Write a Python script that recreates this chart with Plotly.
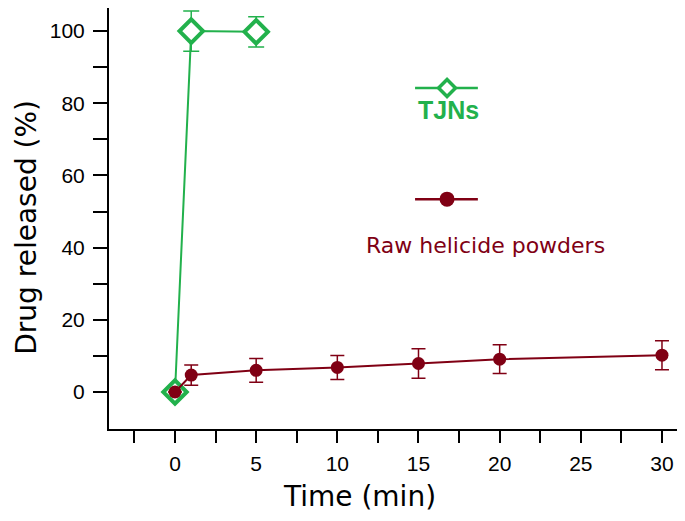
import plotly.graph_objects as go

# data
time_tjn = [0, 1, 5]
release_tjn = [0, 100, 99.8]
err_tjn = [0, 5.6, 4.2]

time_raw = [0, 1, 5, 10, 15, 20, 30]
release_raw = [0, 4.7, 6.0, 6.8, 7.9, 9.1, 10.2]
err_raw = [0, 2.8, 3.3, 3.3, 4.1, 4.0, 4.0]

green = "rgb(34,177,76)"
dark_red = "rgb(128,0,20)"
arial = "Liberation Sans, Arial, sans-serif"
wide = "DejaVu Sans, Liberation Sans, sans-serif"

fig = go.Figure()

# white filled diamonds so the error bar stems / line don't show inside
fig.add_trace(go.Scatter(
    x=time_tjn, y=release_tjn, name="TJNs", mode="lines+markers",
    line=dict(color=green, width=2),
    marker=dict(symbol="diamond", size=18, color="white", line=dict(width=4, color=green)),
    error_y=dict(type="data", array=err_tjn, color=green, thickness=1.5, width=8),
))

fig.add_trace(go.Scatter(
    x=time_raw, y=release_raw, name="Raw helicide powders", mode="lines+markers",
    line=dict(color=dark_red, width=2),
    marker=dict(symbol="circle", size=13, color=dark_red),
    error_y=dict(type="data", array=err_raw, color=dark_red, thickness=1.5, width=7),
))

# hand-made legend on an overlay axis (0..1 box over the plot area)
key_x = [0.536, 0.646]
fig.add_trace(go.Scatter(x=key_x, y=[0.81, 0.81], mode="lines",
                         line=dict(color=green, width=2.5),
                         xaxis="x2", yaxis="y2", showlegend=False, hoverinfo="skip"))
fig.add_trace(go.Scatter(x=[0.592], y=[0.81], mode="markers",
                         marker=dict(symbol="diamond", size=13, color="white", opacity=1,
                                     line=dict(width=3.5, color=green)),
                         xaxis="x2", yaxis="y2", showlegend=False, hoverinfo="skip"))
fig.add_trace(go.Scatter(x=key_x, y=[0.546, 0.546], mode="lines",
                         line=dict(color=dark_red, width=2.5),
                         xaxis="x2", yaxis="y2", showlegend=False, hoverinfo="skip"))
fig.add_trace(go.Scatter(x=[0.592], y=[0.546], mode="markers",
                         marker=dict(symbol="circle", size=15, color=dark_red, opacity=1),
                         xaxis="x2", yaxis="y2", showlegend=False, hoverinfo="skip"))

fig.add_annotation(x=0.595, y=0.757, xref="x2", yref="y2", text="<b>TJNs</b>",
                   showarrow=False, font=dict(size=25, color=green, family=arial))
fig.add_annotation(x=0.659, y=0.437, xref="x2", yref="y2", text="Raw helicide powders",
                   showarrow=False, font=dict(size=22, color=dark_red, family=wide))

# axis titles (not centred on the plot area in the reference)
fig.add_annotation(x=0.4387, y=-0.1615, xref="paper", yref="paper", text="Time (min)",
                   xanchor="center", yanchor="middle",
                   showarrow=False, font=dict(size=28, color="black", family=wide))
fig.add_annotation(x=-0.145, y=0.4786, xref="paper", yref="paper", text="Drug released (%)",
                   xanchor="center", yanchor="middle", textangle=-90,
                   showarrow=False, font=dict(size=28, color="black", family=wide))

fig.update_layout(
    width=685, height=521,
    margin=dict(l=101, r=13, t=0, b=100),
    plot_bgcolor="white", paper_bgcolor="white",
    showlegend=False,
    font=dict(family=arial, color="black"),
    xaxis=dict(
        range=[-4.066, 31.11], tickvals=[0, 5, 10, 15, 20, 25, 30], automargin=False,
        ticks="outside", ticklen=12, tickwidth=1.5, tickcolor="black",
        minor=dict(tickvals=[-2.5, 2.5, 7.5, 12.5, 17.5, 22.5, 27.5],
                   ticks="outside", ticklen=12, tickwidth=1.5, tickcolor="black"),
        showline=True, linecolor="black", linewidth=2, showgrid=False, zeroline=False,
        tickfont=dict(size=21), ticklabelstandoff=3,
    ),
    yaxis=dict(
        range=[-10.25, 106.4], tickvals=[0, 20, 40, 60, 80, 100], automargin=False,
        ticks="outside", ticklen=14, tickwidth=1.5, tickcolor="black",
        minor=dict(tickvals=[10, 30, 50, 70, 90],
                   ticks="outside", ticklen=14, tickwidth=1.5, tickcolor="black"),
        showline=True, linecolor="black", linewidth=2, showgrid=False, zeroline=False,
        tickfont=dict(size=21), ticklabelstandoff=4,
    ),
    xaxis2=dict(overlaying="x", range=[0, 1], visible=False),
    yaxis2=dict(overlaying="y", range=[0, 1], visible=False),
)

fig.write_html("out.html")
